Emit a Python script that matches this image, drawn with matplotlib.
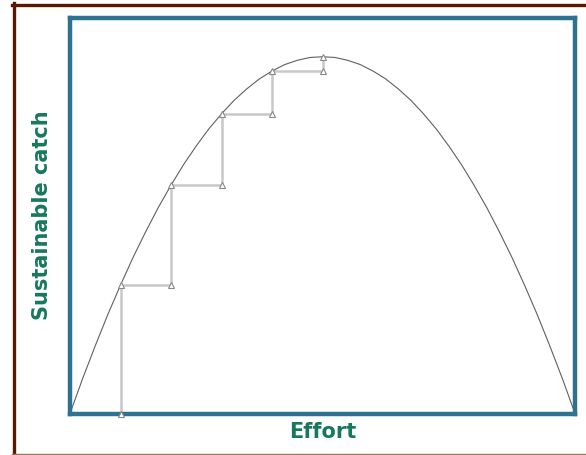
import matplotlib
matplotlib.use("Agg")
import matplotlib.pyplot as plt
from matplotlib.lines import Line2D

# yield curve (catch as % of maximum)
effort = [0, 2.5, 5, 7.5, 10, 12.5, 15, 17.5, 20, 22.5, 25, 27.5, 30, 32.5,
          35, 37.5, 40, 42.5, 45, 47.5, 50, 52.5, 55, 57.5, 60, 62.5, 65,
          67.5, 70, 72.5, 75, 77.5, 80, 82.5, 85, 87.5, 90, 92.5, 95, 97.5, 100]
catch = [0, 9.8, 19, 27.8, 36, 43.8, 51, 57.8, 64, 69.8, 75, 79.8, 84, 87.8,
         91, 93.8, 96, 97.8, 99, 99.8, 100, 99.8, 99, 97.8, 96, 93.8, 91,
         87.8, 84, 79.8, 75, 69.8, 64, 57.8, 51, 43.8, 36, 27.8, 19, 9.8, 0]

# effort steps and the catch each one reaches
step_effort = [10, 20, 30, 40, 50]
step_catch = [36, 64, 84, 96, 100]

frame_col = '#2f7192'
label_col = '#17785a'
brown = '#5a1800'

fig = plt.figure(figsize=(5.86, 4.55), dpi=100, facecolor='white')
ax = fig.add_axes([0.1195, 0.0912, 0.8617, 0.8703])

ax.plot(effort, catch, color='#606060', lw=0.8, zorder=2)

# staircase: up to the curve, then across to the next effort level
sx, sy = [step_effort[0]], [0]
for i, (e, c) in enumerate(zip(step_effort, step_catch)):
    sx.append(e)
    sy.append(c)
    if i + 1 < len(step_effort):
        sx.append(step_effort[i + 1])
        sy.append(c)
ax.plot(sx, sy, color='#c8c8c8', lw=1.8, zorder=1, clip_on=False)
ax.plot(sx, sy, ls='none', marker='^', ms=4.5, mfc='white', mec='#888888',
        mew=0.8, zorder=3, clip_on=False)

ax.set_xlim(0, 100)
ax.set_ylim(0, 111)
ax.set_xticks([])
ax.set_yticks([])
for sp in ax.spines.values():
    sp.set_color(frame_col)
    sp.set_linewidth(3.2)

ax.set_xlabel('Effort', fontsize=15, fontweight='bold', color=label_col,
              family='DejaVu Sans', labelpad=6)
ax.set_ylabel('Sustainable catch', fontsize=15, fontweight='bold',
              color=label_col, family='DejaVu Sans', labelpad=13)

# brown page frame
fig.add_artist(Line2D([12 / 586, 1], [1 - 4.5 / 455] * 2, color=brown, lw=2.4))
fig.add_artist(Line2D([13.5 / 586] * 2, [1 - 3 / 455, 1 / 455], color=brown, lw=2.4))
fig.add_artist(Line2D([12 / 586, 1], [1.2 / 455] * 2, color='#a07060', lw=1.0))

fig.savefig('out.png', dpi=100, facecolor='white')
